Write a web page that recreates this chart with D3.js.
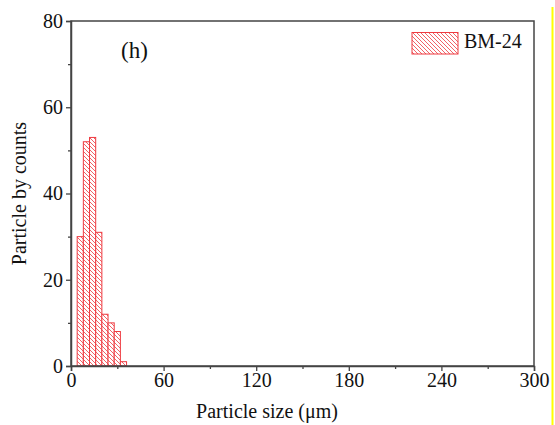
<!DOCTYPE html>
<html>
<head>
<meta charset="utf-8">
<script src="https://cdn.jsdelivr.net/npm/d3@7"></script>
<style>
  body { margin: 0; background: #fff; }
  svg { display: block; }
  text { font-family: "Liberation Serif", "Times New Roman", serif; fill: #111; }
</style>
</head>
<body>
<div id="chart"></div>
<script>
// histogram bins (left edge, µm) and counts
var binStart = [4, 8, 12, 16, 20, 24, 28, 32];
var binWidth = 4;
var counts = [30, 52, 53, 31, 12, 10, 8, 1];
var xTicks = [0, 60, 120, 180, 240, 300];
var xMinor = [30, 90, 150, 210, 270];
var yTicks = [0, 20, 40, 60, 80];
var yMinor = [10, 30, 50, 70];
var seriesName = "BM-24";

let width = 555;
let height = 425;
let margin = {top: 21, right: 21, bottom: 59, left: 71};
let red = "#ee3a40";
let axisColor = "#444";

let svg = d3.select("#chart")
  .append("svg")
  .attr("width", width)
  .attr("height", height);

let defs = svg.append("defs");
let pat = defs.append("pattern")
  .attr("id", "hatch")
  .attr("patternUnits", "userSpaceOnUse")
  .attr("width", 4)
  .attr("height", 4);
pat.append("rect").attr("width", 4).attr("height", 4).attr("fill", "#fff");
pat.append("path")
  .attr("d", "M-1,-1 L5,5 M-1,3 L1,5 M3,-1 L5,1")
  .attr("stroke", red)
  .attr("stroke-width", 0.8);

let x = d3.scaleLinear().domain([0, 300]).range([margin.left, width - margin.right]);
let y = d3.scaleLinear().domain([0, 80]).range([height - margin.bottom, margin.top]);

// bars
svg.append("g")
  .selectAll("rect")
  .data(counts)
  .enter()
  .append("rect")
  .attr("x", (d, i) => x(binStart[i]))
  .attr("y", d => y(d))
  .attr("width", (d, i) => x(binStart[i] + binWidth) - x(binStart[i]))
  .attr("height", d => y(0) - y(d))
  .attr("fill", "url(#hatch)")
  .attr("stroke", red)
  .attr("stroke-width", 1);

// frame
svg.append("rect")
  .attr("x", x(0))
  .attr("y", y(80))
  .attr("width", x(300) - x(0))
  .attr("height", y(0) - y(80))
  .attr("fill", "none")
  .attr("stroke", axisColor)
  .attr("stroke-width", 1.5);

// x axis
let xAxis = svg.append("g")
  .attr("transform", "translate(0," + y(0) + ")")
  .call(d3.axisBottom(x).tickValues(xTicks).tickSize(5).tickPadding(2).tickFormat(d3.format("d")));
xAxis.select(".domain").attr("stroke", axisColor).attr("stroke-width", 1.5);
xAxis.selectAll(".tick line").attr("stroke", axisColor).attr("stroke-width", 1.3);
xAxis.selectAll("text").style("font-size", "20px").attr("fill", "#111");
svg.append("g")
  .attr("transform", "translate(0," + y(0) + ")")
  .call(d3.axisBottom(x).tickValues(xMinor).tickSize(3).tickFormat(""))
  .call(g => g.select(".domain").remove())
  .selectAll("line").attr("stroke", axisColor).attr("stroke-width", 1.3);

// y axis
let yAxis = svg.append("g")
  .attr("transform", "translate(" + x(0) + ",0)")
  .call(d3.axisLeft(y).tickValues(yTicks).tickSize(5).tickPadding(3));
yAxis.select(".domain").attr("stroke", axisColor).attr("stroke-width", 1.5);
yAxis.selectAll(".tick line").attr("stroke", axisColor).attr("stroke-width", 1.3);
yAxis.selectAll("text").style("font-size", "20px").attr("fill", "#111");
svg.append("g")
  .attr("transform", "translate(" + x(0) + ",0)")
  .call(d3.axisLeft(y).tickValues(yMinor).tickSize(3).tickFormat(""))
  .call(g => g.select(".domain").remove())
  .selectAll("line").attr("stroke", axisColor).attr("stroke-width", 1.3);

// axis titles
svg.append("text")
  .attr("x", 267)
  .attr("y", 418)
  .attr("text-anchor", "middle")
  .style("font-size", "20px")
  .text("Particle size (\u03bcm)");

svg.append("text")
  .attr("transform", "translate(26," + ((y(0) + y(80)) / 2) + ") rotate(-90)")
  .attr("text-anchor", "middle")
  .style("font-size", "20px")
  .text("Particle by counts");

// panel label
svg.append("text")
  .attr("x", 121)
  .attr("y", 58)
  .style("font-size", "23px")
  .text("(h)");

// legend
svg.append("rect")
  .attr("x", 412)
  .attr("y", 32.5)
  .attr("width", 46)
  .attr("height", 21.5)
  .attr("fill", "url(#hatch)")
  .attr("stroke", red)
  .attr("stroke-width", 1);
svg.append("text")
  .attr("x", 464)
  .attr("y", 48)
  .style("font-size", "20px")
  .text(seriesName);

// yellow edge line
svg.append("line")
  .attr("x1", 552.5).attr("x2", 552.5)
  .attr("y1", 7).attr("y2", height)
  .attr("stroke", "#ffff00")
  .attr("stroke-width", 2);
</script>
</body>
</html>
